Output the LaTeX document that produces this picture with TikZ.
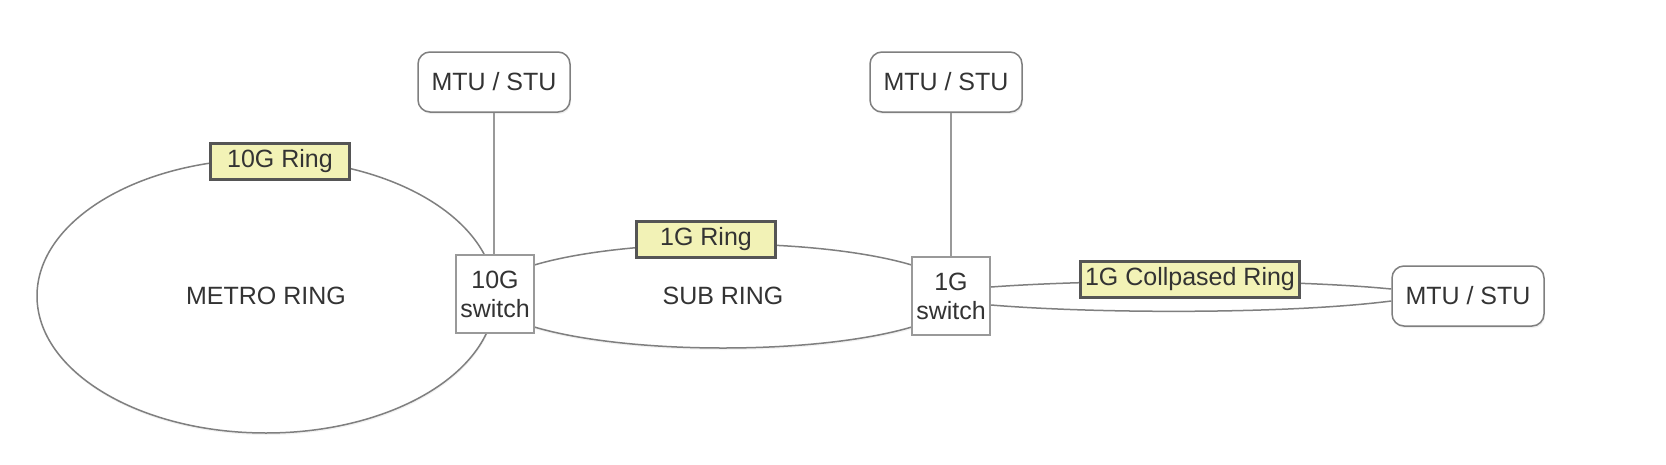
\documentclass[tikz,border=0pt]{standalone}
\usepackage{fontspec}
\setmainfont{Liberation Sans}
\usetikzlibrary{shapes.geometric,shadows,calc}
\definecolor{txt}{HTML}{333333}
\definecolor{ringc}{HTML}{7F7F7F}
\definecolor{boxc}{HTML}{999999}
\definecolor{labfill}{HTML}{F2F2B6}
\definecolor{labdraw}{HTML}{555555}
\begin{document}
\begin{tikzpicture}[x=1pt,y=-1pt,
  every node/.style={font=\fontsize{25}{29}\selectfont, text=txt},
  ring/.style={draw=ringc, line width=1.5pt, ellipse, inner sep=0pt, fill=white,
    drop shadow={opacity=0.10, shadow xshift=0.5pt, shadow yshift=-2pt}},
  ringline/.style={draw=ringc, line width=1.5pt},
  link/.style={draw=boxc, line width=2pt},
  mtubox/.style={draw=ringc, line width=1.5pt, fill=white, rounded corners=12pt,
    minimum width=152pt, minimum height=60pt, inner sep=0pt,
    drop shadow={opacity=0.12, shadow xshift=1pt, shadow yshift=-2pt}},
  swbox/.style={draw=boxc, line width=2pt, fill=white, minimum width=78pt,
    minimum height=78pt, inner sep=0pt, align=center},
  ringlabel/.style={draw=labdraw, line width=3pt, fill=labfill,
    minimum height=36pt, inner sep=0pt}
]
\useasboundingbox[fill=white] (0,0) rectangle (1666,464);

% rings
\node[ring, minimum width=458pt, minimum height=274pt] (metro) at (266,296) {METRO RING};
\node[ring, minimum width=470pt, minimum height=104pt] (sub) at (723,296) {SUB RING};

% boxes
\node[mtubox] (mtu1) at (494,82) {MTU / STU};
\node[mtubox] (mtu2) at (946,82) {MTU / STU};
\node[mtubox] (mtu3) at (1468,296) {MTU / STU};
\node[swbox] (sw10) at (495,294) {10G\\switch};
\node[swbox] (sw1) at (951,296) {1G\\switch};

% connectors
\draw[link] (mtu1.south) -- (mtu1.south |- sw10.north);
\draw[link] (sw1.north |- mtu2.south) -- (sw1.north);
\draw[ringline] ($(sw1.east)+(0,-9)$) .. controls (1100,279) and (1290,279) .. ($(mtu3.west)+(0,-7)$);
\draw[ringline] ($(sw1.east)+(0,9)$) .. controls (1100,314) and (1290,314) .. ($(mtu3.west)+(0,5)$);

% ring labels
\node[ringlabel, minimum width=139pt] (lab10) at (280,161) {10G Ring};
\node[ringlabel, minimum width=139pt] (lab1) at (706,239) {1G Ring};
\node[ringlabel, minimum width=219pt] (labc) at (1190,279) {1G Collpased Ring};
\end{tikzpicture}
\end{document}
